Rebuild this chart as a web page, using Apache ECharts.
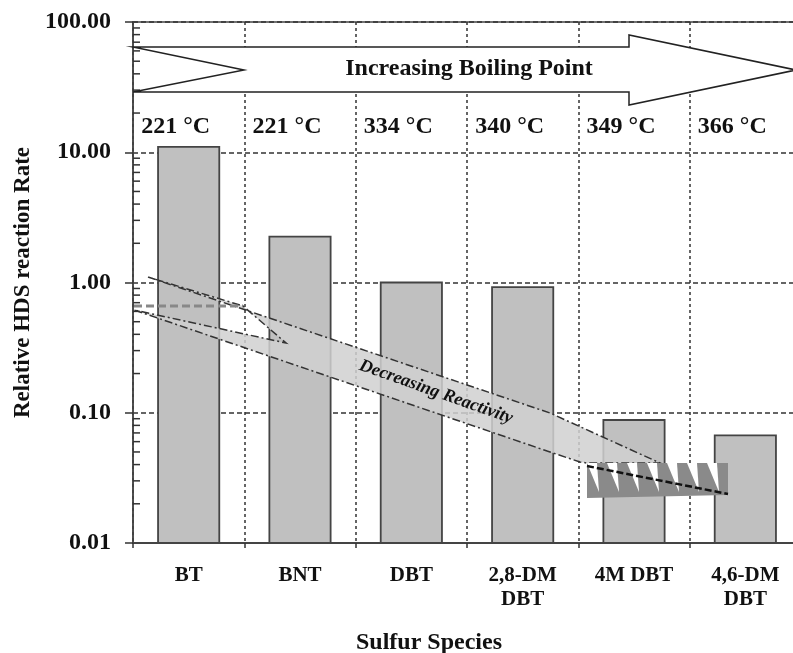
<!DOCTYPE html>
<html>
<head>
<meta charset="utf-8">
<script src="https://cdn.jsdelivr.net/npm/echarts@6/dist/echarts.min.js"></script>
<style>
  html, body { margin: 0; padding: 0; background: #fff; }
  #chart { width: 793px; height: 653px; }
</style>
</head>
<body>
<div id="chart"></div>
<script>
// data
var species = ['BT', 'BNT', 'DBT', '2,8-DM\nDBT', '4M DBT', '4,6-DM\nDBT'];
var boilingPoints = ['221 °C', '221 °C', '334 °C', '340 °C', '349 °C', '366 °C'];
var relRate = [11.0, 2.25, 1.0, 0.92, 0.088, 0.067];
var yTicks = [0.01, 0.1, 1, 10, 100];

var serif = "'Liberation Serif', 'Times New Roman', serif";
var ink = '#333';

// minor ticks 2..9 of every decade (axis decoration only)
var minorTicks = [];
for (var d = 0; d < yTicks.length - 1; d++) {
    for (var m = 2; m <= 9; m++) {
        minorTicks.push([0, yTicks[d] * m]);
    }
}

var barData = relRate.map(function (v, i) { return [i, v]; });

var chart = echarts.init(document.getElementById('chart'));

var option = {
    animation: false,
    backgroundColor: '#fff',
    grid: {
        left: 133, top: 22, width: 668, height: 521,
        outerBoundsMode: 'none',
        show: true, borderColor: '#444', borderWidth: 1.5,
        backgroundColor: 'transparent'
    },
    xAxis: [{
        type: 'category',
        data: species,
        position: 'bottom',
        name: 'Sulfur Species',
        nameLocation: 'middle',
        nameGap: 88,
        nameTextStyle: {
            fontFamily: serif, fontWeight: 'bold', fontSize: 24, color: '#111',
            padding: [0, 76, 0, 0]
        },
        axisLine: { lineStyle: { color: '#444', width: 2 } },
        axisTick: { show: true, length: 5, lineStyle: { color: ink, width: 1.5 } },
        axisLabel: {
            fontFamily: serif, fontWeight: 'bold', fontSize: 21, color: '#111',
            lineHeight: 24, margin: 21, interval: 0
        },
        splitLine: { show: true, lineStyle: { color: ink, width: 1.5, type: [3, 3] } }
    }, {
        type: 'category',
        data: boilingPoints,
        position: 'top',
        axisLine: { show: false },
        axisTick: { show: false },
        splitLine: { show: false },
        axisLabel: {
            inside: true, margin: 93, interval: 0,
            fontFamily: serif, fontWeight: 'bold', fontSize: 24, color: '#111',
            padding: [0, 26, 0, 0]
        }
    }],
    yAxis: {
        type: 'log',
        logBase: 10,
        min: 0.01,
        max: 100,
        name: 'Relative HDS reaction Rate',
        nameLocation: 'middle',
        nameGap: 95,
        nameTextStyle: { fontFamily: serif, fontWeight: 'bold', fontSize: 23, color: '#111' },
        axisLine: { show: true, lineStyle: { color: '#444', width: 1.5 } },
        axisTick: { show: true, length: 8, lineStyle: { color: ink, width: 1.5 } },
        axisLabel: {
            fontFamily: serif, fontWeight: 'bold', fontSize: 24, color: '#111', margin: 22,
            formatter: function (v) { return Number(v).toFixed(2); }
        },
        splitLine: { show: true, lineStyle: { color: ink, width: 1.5, type: [5, 3] } }
    },
    series: [{
        // bars drawn from the axis floor (log axis bars would start at 1)
        type: 'custom',
        data: barData,
        encode: { x: 0, y: 1 },
        renderItem: function (params, api) {
            var top = api.coord([api.value(0), api.value(1)]);
            var bottom = params.coordSys.y + params.coordSys.height;
            var w = api.size([1, 0])[0] * 0.55;
            return {
                type: 'rect',
                shape: { x: top[0] - w / 2, y: top[1], width: w, height: bottom - top[1] },
                style: { fill: '#c0c0c0', stroke: '#444', lineWidth: 1.8 }
            };
        }
    }, {
        type: 'custom',
        data: minorTicks,
        encode: { x: 0, y: 1 },
        clip: false,
        silent: true,
        renderItem: function (params, api) {
            var y = api.coord([0, api.value(1)])[1];
            var x0 = params.coordSys.x;
            return {
                type: 'line',
                shape: { x1: x0, y1: y, x2: x0 + 7, y2: y },
                style: { stroke: ink, lineWidth: 1.5 }
            };
        }
    }],
    graphic: [
        // increasing boiling point arrow
        {
            type: 'polygon', z: 100,
            shape: { points: [[133, 47], [629, 47], [629, 35], [796, 70], [629, 105], [629, 92], [133, 92], [244, 70]] },
            style: { fill: '#fff', stroke: '#222', lineWidth: 1.5 }
        },
        {
            type: 'text', z: 101, x: 469, y: 69,
            style: {
                text: 'Increasing Boiling Point', fill: '#111',
                font: 'bold 24px ' + serif, align: 'center', verticalAlign: 'middle'
            }
        },
        // decreasing reactivity arrow
        {
            type: 'polygon', z: 100,
            shape: { points: [[148, 277], [550, 413], [660, 463], [587, 463], [580, 462], [550, 452], [134, 310], [286, 343], [243, 306]] },
            style: { fill: 'rgba(208,208,208,0.85)', stroke: ink, lineWidth: 1.5, lineDash: [8, 3, 2, 3] }
        },
        {
            type: 'polyline', z: 101,
            shape: { points: [[134, 306], [243, 306]] },
            style: { stroke: '#888', lineWidth: 3, lineDash: [8, 4], fill: null }
        },
        {
            type: 'polygon', z: 102,
            shape: { points: [[587, 463], [728, 463], [728, 495], [587, 498]] },
            style: { fill: '#8a8a8a' }
        },
        {
            type: 'group', z: 103,
            children: [0, 1, 2, 3, 4, 5, 6].map(function (k) {
                var x = 587 + 20 * k;
                return {
                    type: 'polygon', z: 103,
                    shape: { points: [[x, 463], [x + 10, 463], [x + 12, 492]] },
                    style: { fill: '#fff' }
                };
            })
        },
        {
            type: 'line', z: 104,
            shape: { x1: 587, y1: 466, x2: 728, y2: 494 },
            style: { stroke: '#111', lineWidth: 2.5, lineDash: [7, 3] }
        },
        {
            type: 'text', z: 104, x: 436, y: 392, rotation: -19.5 * Math.PI / 180,
            style: {
                text: 'Decreasing Reactivity', fill: '#111',
                font: 'italic bold 18px ' + serif, align: 'center', verticalAlign: 'middle'
            }
        }
    ]
};

chart.setOption(option);
</script>
</body>
</html>
